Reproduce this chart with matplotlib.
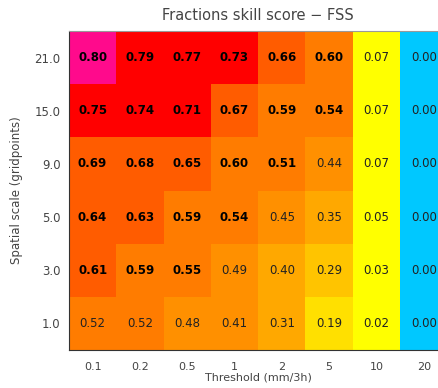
"""
Fractions skill score (FSS) table: spatial scale vs. precipitation threshold.
Generates: out.png
"""

import numpy as np
import matplotlib
matplotlib.use('Agg')
import matplotlib.pyplot as plt
from matplotlib.colors import ListedColormap, BoundaryNorm

THRESHOLDS = ['0.1', '0.2', '0.5', '1', '2', '5', '10', '20']
SCALES = ['1.0', '3.0', '5.0', '9.0', '15.0', '21.0']

# rows bottom -> top (1.0 ... 21.0)
FSS_1 = [0.52, 0.52, 0.48, 0.41, 0.31, 0.19, 0.02, 0.0]
FSS_3 = [0.61, 0.59, 0.55, 0.49, 0.398, 0.29, 0.03, 0.0]
FSS_5 = [0.64, 0.63, 0.59, 0.54, 0.45, 0.35, 0.05, 0.0]
FSS_9 = [0.69, 0.68, 0.65, 0.598, 0.51, 0.44, 0.07, 0.0]
FSS_15 = [0.75, 0.74, 0.71, 0.67, 0.59, 0.54, 0.07, 0.0]
FSS_21 = [0.802, 0.79, 0.77, 0.73, 0.66, 0.598, 0.07, 0.0]

fss = np.array([FSS_1, FSS_3, FSS_5, FSS_9, FSS_15, FSS_21])

LEVELS = [-0.01, 0.005, 0.1, 0.2, 0.3, 0.4, 0.5, 0.6, 0.7, 0.8, 1.01]
COLORS = ['#00C8FF', '#FFFF00', '#FFE000', '#FFC400', '#FFA800',
          '#FF9000', '#FF7C00', '#FF5C00', '#FF0000', '#FF0A8C']
cmap = ListedColormap(COLORS)
norm = BoundaryNorm(LEVELS, cmap.N)

fig = plt.figure(figsize=(4.39, 3.88), dpi=100)
ax = fig.add_axes([0.157, 0.098, 0.862, 0.822])

ax.pcolormesh(np.arange(len(THRESHOLDS) + 1), np.arange(len(SCALES) + 1), fss,
              cmap=cmap, norm=norm)

# useful-skill values (>= 0.5) are bold, except at the grid scale itself
for j in range(fss.shape[0]):
    for i in range(fss.shape[1]):
        v = fss[j, i]
        bold = v >= 0.5 and j > 0
        ax.text(i + 0.5, j + 0.5, f'{v:.2f}', ha='center', va='center',
                fontsize=8.5, color='black' if bold else '#222222',
                fontweight='bold' if bold else 'normal')

ax.set_xlim(0, len(THRESHOLDS))
ax.set_ylim(0, len(SCALES))
ax.set_xticks(np.arange(len(THRESHOLDS)) + 0.5)
ax.set_xticklabels(THRESHOLDS)
ax.set_yticks(np.arange(len(SCALES)) + 0.5)
ax.set_yticklabels(SCALES)
ax.tick_params(axis='x', length=0, labelsize=8, labelcolor='#444444', pad=9)
ax.tick_params(axis='y', length=0, labelsize=8.5, labelcolor='#444444', pad=6)

ax.set_xlabel('Threshold (mm/3h)', fontsize=8, color='#444444', labelpad=0)
ax.set_ylabel('Spatial scale (gridpoints)', fontsize=8.5, color='#444444', labelpad=8)
ax.set_title('Fractions skill score \u2212 FSS', fontsize=10.5, color='#444444', pad=8)

for side in ['left', 'bottom']:
    ax.spines[side].set_color('#333333')
ax.spines['top'].set_color('#999999')

plt.savefig('out.png', dpi=100)
plt.close()
